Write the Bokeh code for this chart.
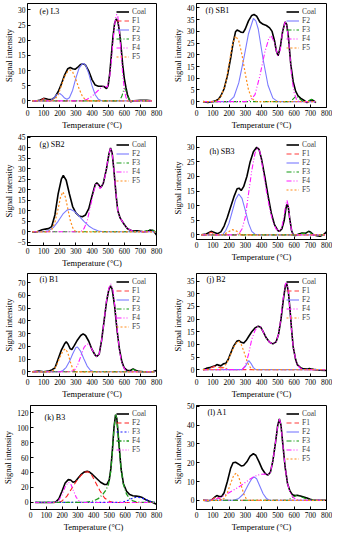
from bokeh.plotting import figure
from bokeh.models import Legend, LegendItem, Label, Range1d, FixedTicker
from bokeh.layouts import column, row
from bokeh.embed import file_html
from bokeh.resources import INLINE

FONT = "Liberation Serif"
X_TICKS = [0, 100, 200, 300, 400, 500, 600, 700, 800]

# ---------------- data: (temperature degC, signal) pairs ----------------
# (e) L3
L3_coal = [(30,0),(60,0),(80,0.3),(100,0.8),(115,0.7),(130,0.4),(150,0.4),(170,1.2),(190,3.0),(210,5.5),(230,8.5),(250,10.6),(265,11.0),(280,10.6),(295,10.4),(310,11.0),(330,12.0),(345,12.2),(360,11.8),(380,9.8),(400,7.0),(420,5.2),(440,4.8),(460,4.8),(475,4.7),(490,4.0),(500,5.0),(510,9.0),(520,15.0),(530,21.0),(540,25.5),(550,27.0),(560,26.3),(570,23.0),(580,18.0),(590,12.0),(600,7.5),(610,4.5),(620,2.0),(630,0.5),(640,-0.3),(660,0),(700,0.2),(740,0.2),(770,0)]
L3_F1 = [(30,0),(80,0),(100,0.8),(115,0.5),(135,0),(770,0)]
L3_F2 = [(30,0),(140,0),(160,0.8),(180,2.0),(200,2.4),(215,1.8),(230,0.9),(245,0.5),(260,1.0),(280,3.5),(300,7.5),(320,10.8),(340,12.2),(350,12.3),(360,11.8),(380,9.0),(400,5.0),(420,2.0),(440,0.5),(460,0),(770,0)]
L3_F3 = [(30,0),(570,0),(585,1.5),(600,4.2),(610,3.5),(620,1.5),(635,0),(770,0)]
L3_F4 = [(30,0),(340,0),(370,0.5),(400,1.5),(430,3.0),(460,4.5),(480,4.9),(495,4.5),(510,8.0),(520,13.0),(530,19.5),(540,25.0),(550,28.3),(555,28.5),(560,27.8),(570,23.0),(580,16.0),(590,9.0),(600,4.0),(610,1.2),(620,0.2),(640,0),(770,0)]
L3_F5 = [(30,0),(150,0),(170,0.5),(190,2.0),(210,5.0),(230,8.0),(250,9.8),(265,10.2),(280,9.5),(300,7.0),(320,4.0),(340,1.5),(360,0.3),(380,0),(770,0)]

# (f) SB1
SB1_coal = [(40,0),(70,-0.3),(100,0),(120,0.5),(135,1.0),(150,2.5),(170,5.5),(190,11),(210,18.5),(225,25),(240,29.8),(250,30.6),(262,30.2),(275,29.6),(287,29.5),(300,31),(320,34.5),(340,36.8),(354,37.2),(370,36.5),(390,34),(410,33),(430,32.5),(450,31.5),(465,30),(480,26),(492,21.5),(502,19.6),(515,23),(530,30),(545,34),(555,33),(565,28),(580,16),(595,8.5),(610,4.5),(625,2.5),(640,1.5),(660,0.6),(680,-0.4),(695,0.2),(710,0.8),(722,0.3),(735,-0.4)]
SB1_F2 = [(40,0),(200,0),(230,2),(260,8),(290,18),(320,29),(350,35.5),(365,34.5),(380,31),(410,18),(440,7),(470,1.5),(500,0),(735,0)]
SB1_F3 = [(40,0),(580,0),(600,1.5),(615,2.5),(630,1.5),(650,0.3),(680,0),(695,0.6),(708,1.0),(720,0.5),(735,0)]
SB1_F4 = [(40,0),(300,0),(330,0.5),(360,3),(390,11),(420,21),(445,27),(460,28.2),(480,25),(500,19.5),(515,22),(530,30),(545,34),(555,33),(570,24),(585,11),(600,4),(615,1),(630,0),(735,0)]
SB1_F5 = [(40,0),(110,0),(130,0.5),(150,2),(180,8),(200,16),(220,24),(240,28),(260,26),(280,20),(300,12),(320,5),(340,1.5),(360,0.2),(380,0),(735,0)]

# (g) SB2
SB2_coal = [(30,-0.2),(60,0),(90,1.0),(110,1.3),(130,1.5),(150,2.5),(170,8),(190,18),(210,25),(222,26.8),(240,24.5),(260,18),(280,12),(300,9),(320,7.5),(340,7.2),(360,8),(380,11),(400,17),(420,22.5),(430,23.3),(440,22.5),(455,21),(470,23),(490,30),(505,37),(515,39.8),(525,37.5),(535,30),(550,17),(560,10),(575,6.5),(600,3.5),(620,1.5),(650,0.4),(680,0.5),(700,0.3),(720,0),(740,0.2),(760,0.8),(780,0.6),(790,-0.5),(800,-1.5)]
SB2_F2 = [(30,0),(90,0),(130,0.5),(160,2),(190,5),(220,8.5),(245,10.3),(265,10.7),(290,9.8),(320,7.5),(350,5),(380,2.8),(410,1.3),(440,0.4),(470,0),(790,0)]
SB2_F3 = [(30,0),(720,0),(745,0.7),(765,1.1),(780,0.6),(795,0)]
SB2_F4 = [(30,0),(330,0),(350,1.5),(370,5),(390,12),(410,19),(425,22.8),(435,22.5),(450,20.5),(465,22),(480,26),(500,35),(515,40),(525,37.5),(535,30),(550,17),(560,10),(575,6.5),(600,3.5),(620,1.5),(650,0.4),(680,0),(790,0)]
SB2_F5 = [(30,0),(130,0),(150,1),(170,4.5),(190,11),(205,16.5),(220,19),(235,16.5),(250,11),(265,5.5),(280,2),(295,0.4),(310,0),(790,0)]

# (h) SB3
SB3_coal = [(30,0),(60,0.3),(90,1.2),(110,0.8),(130,0.4),(150,1),(170,3),(190,6),(210,9.5),(230,13),(250,15.8),(262,16),(275,15.2),(290,16.5),(310,20),(330,25),(350,28.5),(370,30),(385,29.3),(400,26),(420,20),(440,13.5),(460,7.5),(480,3.5),(500,1.5),(510,1.2),(525,2),(540,5),(550,9),(558,10.5),(565,9.5),(575,5),(585,1.5),(595,0),(610,-0.2),(630,0.3),(650,0.6),(670,0.5),(690,1.2),(700,1.0),(720,0),(740,-0.3),(760,-0.5),(780,0),(800,1.0)]
SB3_F1 = [(30,0),(60,0),(90,0.9),(120,0),(790,0)]
SB3_F2 = [(30,0),(160,0),(180,1.5),(200,4),(220,8),(240,12),(260,14),(280,12.5),(300,8.5),(320,4),(340,1.2),(360,0.2),(380,0),(790,0)]
SB3_F3 = [(30,0),(620,0),(640,0.6),(660,0.4),(690,1.2),(710,0.3),(720,0),(790,0)]
SB3_F4 = [(30,0),(240,0),(260,0.3),(280,2),(300,6),(320,14),(340,22),(360,28),(375,30),(390,28.5),(410,22),(430,15),(450,9),(470,4.5),(490,2),(510,1.2),(525,2.5),(540,7),(550,10.5),(557,11.8),(565,10),(575,5),(585,1.5),(595,0),(790,0)]
SB3_F5 = [(30,0),(160,0),(190,0.8),(220,1.8),(250,1.2),(270,0.2),(280,0),(790,0)]

# (i) B1
B1_coal = [(30,0),(70,0.5),(100,0),(130,0.5),(150,1.5),(170,3),(190,10),(210,17),(230,22),(240,23.5),(250,22),(265,18),(275,17.5),(290,20.5),(310,25),(330,28.5),(345,29.8),(360,28.5),(380,24),(400,17.5),(420,13),(430,12),(445,14),(460,25),(475,40),(490,55),(505,65),(515,67.5),(525,65),(540,52),(555,33),(570,18),(585,8),(600,3),(620,1),(640,1.2),(655,2.2),(670,1.3),(690,0.3),(720,0),(760,0),(780,0.2),(800,1)]
B1_F1 = [(30,0),(790,0)]
B1_F2 = [(30,0),(200,0),(220,1),(240,3.5),(260,8),(280,14),(300,19),(310,19.5),(330,16),(350,10),(370,4.5),(390,1.2),(410,0),(790,0)]
B1_F3 = [(30,0),(620,0),(640,1),(655,2),(670,1),(690,0),(790,0)]
B1_F4 = [(30,0),(260,0),(290,1),(310,5),(330,12),(350,19),(365,21.5),(380,22),(400,17.5),(420,13),(430,12),(445,14),(460,25),(475,40),(490,56),(505,66),(517,69),(530,64),(545,48),(560,28),(575,13),(590,5),(605,1.5),(620,0.3),(640,0),(790,0)]
B1_F5 = [(30,0),(140,0),(160,1),(180,5),(200,11),(220,16.5),(235,18),(250,15),(265,8),(280,2.5),(290,0.5),(300,0),(790,0)]

# (j) B2
B2_coal = [(40,0),(60,0.5),(80,0.8),(100,1.2),(115,1.5),(125,2),(140,1.7),(150,1.5),(165,2.3),(180,2.5),(195,4),(210,6.5),(230,9.5),(250,11.3),(262,11.5),(275,10.8),(290,10.5),(305,11.5),(320,13),(340,15),(360,16.5),(380,17.2),(395,16.8),(410,15),(430,12.5),(450,10.8),(470,10.2),(490,11),(505,14),(520,20),(535,28),(548,33.5),(555,34),(565,31),(575,24),(585,16),(595,9),(610,4),(620,2),(640,0.8),(660,0.3),(680,0.2),(695,0.5),(710,0.2),(730,0),(760,-0.2),(800,-0.3)]
B2_F1 = [(40,0),(60,0),(90,0.8),(110,1.3),(130,1),(150,0.7),(170,1),(185,0.3),(200,0),(790,0)]
B2_F2 = [(40,0),(280,0),(300,1.2),(315,3),(322,3.6),(335,2.5),(350,0.8),(365,0),(790,0)]
B2_F4 = [(40,0),(280,0),(300,1.5),(320,6),(340,12),(360,15.5),(380,17.2),(395,16.8),(410,15),(430,12.5),(450,10.8),(470,10.2),(490,11),(505,14),(520,20.5),(535,29),(548,34),(555,34.6),(565,31.5),(575,24),(585,16),(595,9),(610,4),(620,2),(640,0.5),(660,0),(790,0)]
B2_F5 = [(40,0),(150,0),(170,1),(190,3),(210,6),(230,9),(250,11),(262,11.2),(275,10),(290,7.5),(305,4.5),(320,2),(335,0.5),(350,0),(790,0)]

# (k) B3
B3_coal = [(30,0),(140,0),(160,0.5),(180,5),(200,15),(220,26),(240,30.5),(255,30),(270,27),(285,28),(300,32),(320,37),(340,40.5),(360,41.5),(375,40.5),(395,37),(420,32),(445,27),(470,24),(485,24),(500,30),(510,45),(520,70),(530,100),(540,117),(548,112),(555,95),(565,70),(575,45),(590,25),(610,15),(630,10.5),(650,9),(670,8.5),(690,8),(710,6.5),(730,4),(750,2),(770,0.5),(790,-1.5),(800,-2.5)]
B3_F2 = [(30,0),(180,0),(200,2),(230,8),(260,18),(290,28),(320,36),(345,40.5),(365,41),(385,38),(410,28),(440,16),(470,6),(500,1.5),(520,0.3),(540,0),(790,0)]
B3_F3 = [(30,0),(580,0),(610,2),(640,5),(670,7),(700,6.5),(730,4),(760,1.5),(790,0)]
B3_F4 = [(30,0),(350,0),(400,2),(430,5),(460,11),(480,17),(495,24),(510,42),(520,68),(530,98),(540,117),(548,112),(555,95),(565,70),(575,45),(590,24),(610,11),(630,5),(650,2),(680,0.5),(720,0),(790,0)]
B3_F5 = [(30,0),(160,0),(180,3),(200,10),(220,21),(240,27),(255,25),(270,17),(290,7),(310,1.5),(330,0),(790,0)]

# (l) A1
A1_coal = [(40,0),(70,-0.2),(90,0),(110,1.5),(125,2.5),(140,2),(155,2),(170,4),(190,10),(210,17),(225,20),(240,20.3),(255,19.5),(275,18.3),(290,18.5),(310,20.5),(330,23.5),(350,24.8),(365,24),(385,20.5),(405,16.5),(425,14),(440,13.5),(455,15),(470,21),(485,30),(500,40),(510,43.3),(520,40),(530,31),(545,18),(560,9),(575,5),(590,3),(605,2.5),(620,2.7),(640,2.3),(660,1.8),(680,1.2),(700,0.5),(720,0),(760,0),(800,0)]
A1_F1 = [(40,0),(90,0),(110,1.2),(125,2),(140,1),(160,0),(790,0)]
A1_F2 = [(40,0),(230,0),(260,1),(290,3.5),(320,8.5),(340,11.5),(355,12.5),(370,11.5),(390,7.5),(410,3.5),(430,1),(450,0),(790,0)]
A1_F3 = [(40,0),(560,0),(590,1.5),(615,2.6),(640,2),(670,1),(700,0.3),(720,0),(790,0)]
A1_F4 = [(40,0),(80,0),(110,0.5),(150,1.5),(200,4),(250,6.5),(300,9.5),(350,12.5),(390,13.8),(420,14),(440,13.6),(455,15),(470,21),(485,30),(500,40),(510,43.5),(520,40),(530,31),(545,18),(560,9),(575,4.5),(590,2),(610,0.5),(630,0),(790,0)]
A1_F5 = [(40,0),(150,0),(170,1),(190,4),(210,9),(230,13.5),(245,14.5),(260,12.5),(275,8),(290,3.5),(305,1),(320,0),(790,0)]

# y-axis ticks per panel
L3_yticks = [0, 5, 10, 15, 20, 25, 30]
SB1_yticks = [0, 5, 10, 15, 20, 25, 30, 35, 40]
SB2_yticks = [-5, 0, 5, 10, 15, 20, 25, 30, 35, 40, 45]
SB3_yticks = [0, 5, 10, 15, 20, 25, 30]
B1_yticks = [0, 10, 20, 30, 40, 50, 60, 70]
B2_yticks = [0, 5, 10, 15, 20, 25, 30, 35]
B3_yticks = [0, 20, 40, 60, 80, 100, 120]
A1_yticks = [0, 10, 20, 30, 40, 50]

# ---------------- styles ----------------
COAL = dict(color="black", width=1.6, dash="solid")
STD = {
    "F1": dict(color="#ff3b3b", width=1.1, dash="5 3"),
    "F2": dict(color="#7b7bff", width=1.1, dash="solid"),
    "F3": dict(color="#129a12", width=1.1, dash="5 2 1 2"),
    "F4": dict(color="#ff1aff", width=1.1, dash="5 2 1 2 1 2"),
    "F5": dict(color="#ff8c1a", width=1.2, dash="2 2"),
}
B3STY = {
    "F2": dict(color="#ff2020", width=1.1, dash="5 3"),
    "F3": dict(color="#1a1aff", width=1.2, dash="2 2"),
    "F4": dict(color="#1f9a1f", width=1.3, dash="5 2 1 2"),
    "F5": dict(color="#ff1aff", width=1.1, dash="4 2 1 2 1 2"),
}


def make_panel(title, curves, styles, yr, yticks, width, height, bl, br, bt, bb, tx, ty):
    p = figure(width=width, height=height, x_range=Range1d(0, 800), y_range=Range1d(*yr),
               output_backend="svg", toolbar_location=None,
               min_border_left=bl, min_border_right=br, min_border_top=bt, min_border_bottom=bb)
    p.xgrid.visible = False
    p.ygrid.visible = False
    p.outline_line_color = "black"
    p.outline_line_width = 1
    p.background_fill_color = "white"
    p.border_fill_color = "white"
    for ax in (p.xaxis[0], p.yaxis[0]):
        ax.major_tick_in = 3
        ax.major_tick_out = 0
        ax.minor_tick_line_color = None
        ax.axis_line_color = "black"
        ax.major_tick_line_color = "black"
        ax.major_label_text_font = FONT
        ax.major_label_text_font_size = "7.5px"
        ax.major_label_text_color = "black"
        ax.axis_label_text_font = FONT
        ax.axis_label_text_font_size = "8.5px"
        ax.axis_label_text_font_style = "normal"
        ax.axis_label_text_color = "black"
        ax.major_label_standoff = 2
        ax.axis_label_standoff = 1
    p.xaxis.ticker = FixedTicker(ticks=X_TICKS)
    p.yaxis.ticker = FixedTicker(ticks=yticks)
    p.xaxis.axis_label = "Temperature (°C)"
    p.yaxis.axis_label = "Signal intensity"

    items = []
    for name, pts in curves:
        st = COAL if name == "Coal" else styles[name]
        xs = [a for a, b in pts]
        ys = [b for a, b in pts]
        r = p.line(xs, ys, line_color=st["color"], line_width=st["width"], line_dash=st["dash"])
        items.append(LegendItem(label=name, renderers=[r]))
    leg = Legend(items=items, location="top_right")
    leg.label_text_font = FONT
    leg.label_text_font_size = "7.5px"
    leg.label_height = 7
    leg.glyph_height = 7
    leg.glyph_width = 13
    leg.spacing = 0
    leg.padding = 1
    leg.margin = 3
    leg.label_standoff = 3
    leg.background_fill_alpha = 0
    leg.border_line_alpha = 0
    p.add_layout(leg)

    fh = height - bt - bb
    p.add_layout(Label(x=tx, y=fh - ty, x_units="screen", y_units="screen", text=title,
                       text_font=FONT, text_font_size="8px", text_baseline="middle", text_color="black"))
    return p


LW, RW = 169, 163
LB, LR = 20, 13
RB, RR = 26, 6

pe = make_panel("(e) L3", [("Coal", L3_coal), ("F1", L3_F1), ("F2", L3_F2), ("F3", L3_F3), ("F4", L3_F4), ("F5", L3_F5)],
                STD, (-2.2, 32.1), L3_yticks, LW, 132, LB, LR, 3, 23, 12, 10)
pf = make_panel("(f) SB1", [("Coal", SB1_coal), ("F2", SB1_F2), ("F3", SB1_F3), ("F4", SB1_F4), ("F5", SB1_F5)],
                STD, (-2.5, 41.9), SB1_yticks, RW, 132, RB, RR, 3, 23, 9, 9)
pg = make_panel("(g) SB2", [("Coal", SB2_coal), ("F2", SB2_F2), ("F3", SB2_F3), ("F4", SB2_F4), ("F5", SB2_F5)],
                STD, (-6.5, 45.3), SB2_yticks, LW, 138, LB, LR, 4, 17, 12, 16)
ph = make_panel("(h) SB3", [("Coal", SB3_coal), ("F1", SB3_F1), ("F2", SB3_F2), ("F3", SB3_F3), ("F4", SB3_F4), ("F5", SB3_F5)],
                STD, (-1.6, 33.7), SB3_yticks, RW, 132, RB, RR, 4, 22, 13, 18)
pi = make_panel("(i) B1", [("Coal", B1_coal), ("F1", B1_F1), ("F2", B1_F2), ("F3", B1_F3), ("F4", B1_F4), ("F5", B1_F5)],
                STD, (-3.7, 77.2), B1_yticks, LW, 131, LB, LR, 3, 22, 12, 9)
pj = make_panel("(j) B2", [("Coal", B2_coal), ("F1", B2_F1), ("F2", B2_F2), ("F4", B2_F4), ("F5", B2_F5)],
                STD, (-2.7, 38.0), B2_yticks, RW, 131, RB, RR, 3, 22, 10, 9)
pk = make_panel("(k) B3", [("Coal", B3_coal), ("F2", B3_F2), ("F3", B3_F3), ("F4", B3_F4), ("F5", B3_F5)],
                B3STY, (-9.4, 129.4), B3_yticks, LW, 133, LB, LR, 4, 22, 14, 15)
pl = make_panel("(l) A1", [("Coal", A1_coal), ("F1", A1_F1), ("F2", A1_F2), ("F3", A1_F3), ("F4", A1_F4), ("F5", A1_F5)],
                STD, (-4.9, 50.5), A1_yticks, RW, 133, RB, RR, 4, 22, 11, 10)

layout = column(row(pe, pf), row(pg, ph), row(pi, pj), row(pk, pl))
open("out.html", "w").write(file_html(layout, INLINE))
